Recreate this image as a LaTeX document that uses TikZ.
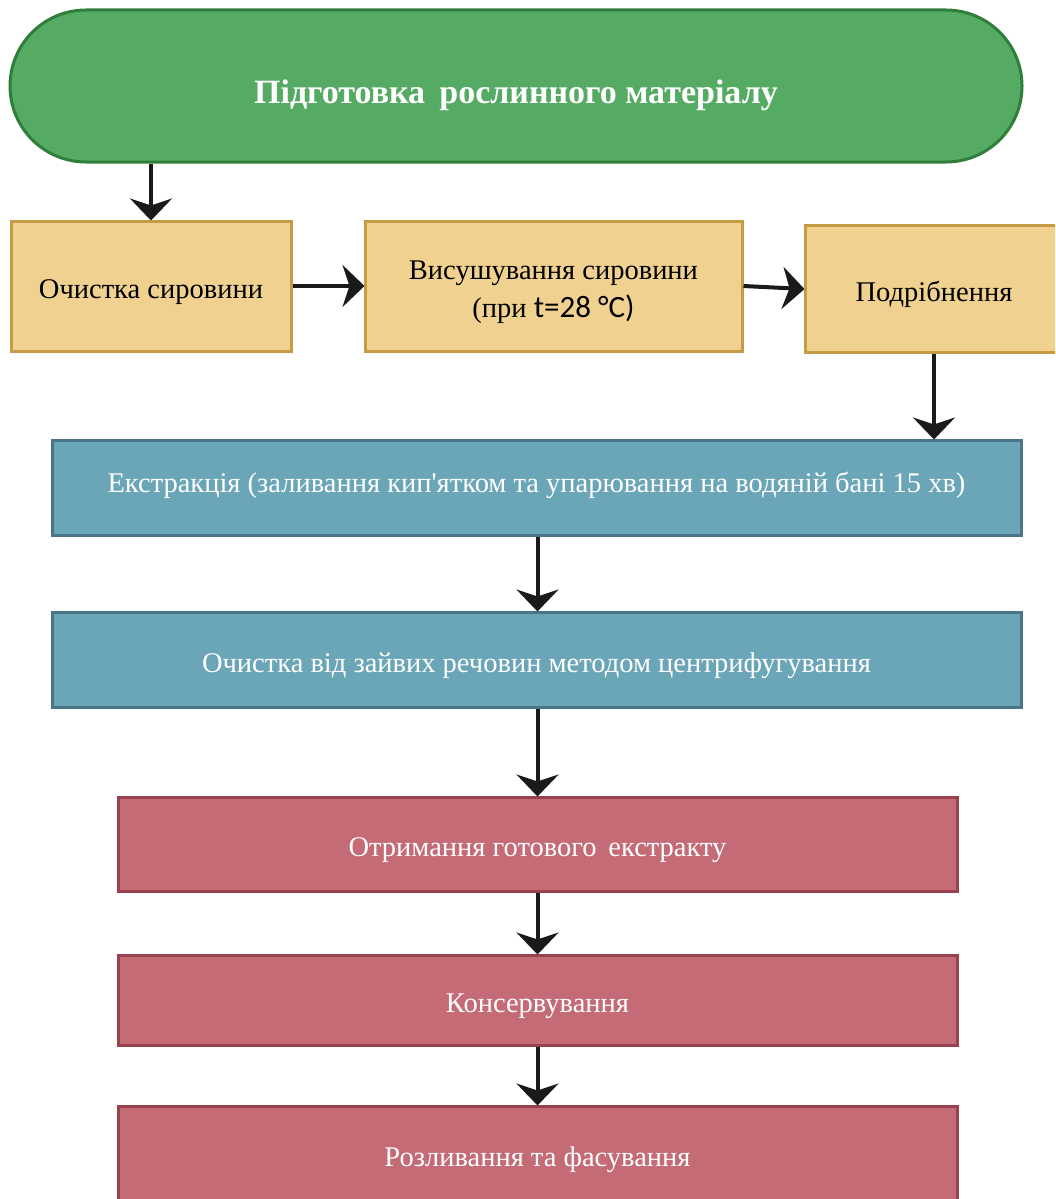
\documentclass[tikz,border=0pt]{standalone}
\usepackage{fontspec}
\setmainfont{Liberation Serif}
\newfontfamily\plainser{Liberation Serif}[Ligatures=TeXOff]
\newfontfamily\altsans{Carlito}
\usetikzlibrary{arrows.meta,shapes.misc}
\definecolor{grfill}{HTML}{55AB63}
\definecolor{grdraw}{HTML}{2F7F3A}
\definecolor{yefill}{HTML}{F0D18F}
\definecolor{yedraw}{HTML}{C69B45}
\definecolor{blfill}{HTML}{6AA6B8}
\definecolor{bldraw}{HTML}{4A7586}
\definecolor{rdfill}{HTML}{C46B76}
\definecolor{rddraw}{HTML}{9A4150}
\definecolor{arr}{HTML}{1A1A1A}
\tikzset{
  x=1pt, y=-1pt,
  base/.style={draw, line width=3pt, inner sep=0pt, align=center, font=\fontsize{28.5}{38}\selectfont},
  sl/.style={text height=25pt, text depth=0pt},
  term/.style={base, rounded rectangle, fill=grfill, draw=grdraw, text=white, text height=34pt, text depth=0pt, font=\fontsize{34}{40}\selectfont\bfseries},
  ybox/.style={base, rectangle, fill=yefill, draw=yedraw, text=black},
  bbox/.style={base, rectangle, fill=blfill, draw=bldraw, text=white},
  rbox/.style={base, rectangle, fill=rdfill, draw=rddraw, text=white},
  flow/.style={draw=arr, line width=4pt, -{Stealth[length=22pt, width=42pt, inset=7pt]}, shorten >=-1pt}
}
\begin{document}
\begin{tikzpicture}
\useasboundingbox (0,0) rectangle (1055,1199);
\clip (0,0) rectangle (1055,1199);
\node[term, minimum width=1012pt, minimum height=152pt] (g) at (516,86) {Підготовка\, рослинного матеріалу};
\node[ybox, sl, minimum width=280pt, minimum height=130pt] (y1) at (151,286) {Очистка сировини};
\node[ybox, minimum width=377pt, minimum height=130pt] (y2) at (553.5,286) {\rule{0pt}{32pt}Висушування сировини\\(при {\altsans\fontsize{31}{38}\selectfont t=28 °C)}};
\node[ybox, sl, minimum width=258pt, minimum height=127pt] (y3) at (934,289) {Подрібнення};
\node[bbox, sl, minimum width=969pt, minimum height=95pt, text depth=15pt] (b1) at (536.5,487.5) {Екстракція (заливання кип{\plainser '}ятком та упарювання на водяній бані 15 хв)};
\node[bbox, sl, minimum width=969pt, minimum height=95pt] (b2) at (536.5,659.5) {Очистка від зайвих речовин методом центрифугування};
\node[rbox, sl, minimum width=839pt, minimum height=94pt] (r1) at (537.5,844) {Отримання готового\, екстракту};
\node[rbox, sl, minimum width=839pt, minimum height=90pt] (r2) at (537.5,1000) {Консервування};
\node[rbox, sl, minimum width=839pt, minimum height=96pt] (r3) at (537.5,1154) {Розливання та фасування};
\draw[flow] (y1.north |- g.south) -- (y1.north);
\draw[flow] (y1.east) -- (y2.west);
\draw[flow] (y2.east) -- (y3.west);
\draw[flow] (y3.south) -- (y3.south |- b1.north);
\draw[flow] (b1.south -| r1.north) -- (b2.north -| r1.north);
\draw[flow] (b2.south -| r1.north) -- (r1.north);
\draw[flow] (r1.south) -- (r2.north);
\draw[flow] (r2.south) -- (r3.north);
\end{tikzpicture}
\end{document}
